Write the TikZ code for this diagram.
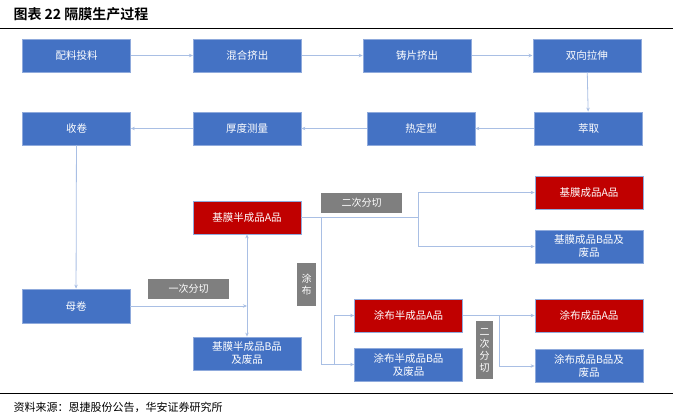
\documentclass[tikz,border=0pt]{standalone}
\usepackage{fontspec}
\setmainfont{Noto Sans CJK SC}
\newfontfamily\cjkbold{Noto Sans CJK SC Bold}
\usetikzlibrary{arrows.meta,positioning,calc}
\definecolor{procblue}{HTML}{4472C4}
\definecolor{gradered}{HTML}{C00000}
\definecolor{cutgrey}{HTML}{7F7F7F}
\definecolor{edgeblue}{HTML}{8FAADC}
\definecolor{linkblue}{HTML}{A9BFE4}

\begin{document}
\begin{tikzpicture}[
  x=1pt, y=-1pt,
  block/.style={draw=edgeblue, line width=0.8pt, rectangle,
                minimum width=108pt, minimum height=33pt, inner sep=1pt,
                font=\fontsize{10.5}{13}\selectfont, text=white, align=center},
  blueblock/.style={block, fill=procblue},
  redblock/.style={block, fill=gradered},
  cut/.style={fill=cutgrey, text=white, inner sep=0pt, align=center,
              font=\fontsize{10}{12}\selectfont},
  arr/.style={-{Stealth[length=4pt,width=3.5pt]}, linkblue, line width=0.8pt},
  lnk/.style={linkblue, line width=0.8pt},
  node distance=62pt
]
  \useasboundingbox (0,0) rectangle (678,418);

  %% Title and rules
  \node[anchor=west, font=\cjkbold\fontsize{14}{16}\selectfont] (title) at (10,14)
    {图表 22 隔膜生产过程};
  \draw[line width=1pt] (0,28) -- (673,28);
  \draw[line width=1pt] (0,393) -- (673,393);
  \node[anchor=west, font=\fontsize{11}{13}\selectfont] (src) at (10,407)
    {资料来源：恩捷股份公告，华安证券研究所};

  %% Row 1
  \node[blueblock] (feed) at (76.5,55.5) {配料投料};
  \node[blueblock, right=62pt of feed] (mix) {混合挤出};
  \node[blueblock, right=61pt of mix] (cast) {铸片挤出};
  \node[blueblock, right=61pt of cast] (stretch) {双向拉伸};

  %% Row 2
  \node[blueblock] (extract) at (588.5,128.5) {萃取};
  \node[blueblock] (heat) at (421,128.5) {热定型};
  \node[blueblock] (thick) at (247,128.5) {厚度测量};
  \node[blueblock] (wind) at (76.5,128.5) {收卷};

  %% Mother roll and base film
  \node[blueblock, minimum height=34pt] (mother) at (76,306) {母卷};
  \node[redblock] (semiA) at (247,217.5) {基膜半成品A品};
  \node[blueblock] (semiB) at (247,353.5) {基膜半成品B品\\及废品};
  \node[redblock] (baseA) at (589,192.5) {基膜成品A品};
  \node[blueblock] (baseB) at (589,246.5) {基膜成品B品及\\废品};

  %% Coating
  \node[redblock] (coatsemiA) at (408.5,315.5) {涂布半成品A品};
  \node[blueblock] (coatsemiB) at (408.5,364.5) {涂布半成品B品\\及废品};
  \node[redblock] (coatA) at (589,315.5) {涂布成品A品};
  \node[blueblock] (coatB) at (589,366) {涂布成品B品及\\废品};

  %% Cut labels
  \node[cut, minimum width=81pt, minimum height=20pt] (cut1) at (188.5,289) {一次分切};
  \node[cut, minimum width=81pt, minimum height=20pt] (cut2) at (361.5,203) {二次分切};
  \node[cut, minimum width=19pt, minimum height=43pt] (coat) at (306.5,284.5) {涂\\布};
  \node[cut, minimum width=17pt, minimum height=58pt] (cut3) at (484.5,350) {二\\次\\分\\切};

  %% Junctions
  \coordinate (j1) at (247,306);
  \coordinate (j2) at (418,217.5);
  \coordinate (j3) at (321,217.5);
  \coordinate (j4) at (334,364.5);
  \coordinate (j5) at (499,315.5);

  %% Arrows
  \draw[arr] (feed) -- (mix);
  \draw[arr] (mix) -- (cast);
  \draw[arr] (cast) -- (stretch);
  \draw[arr] (stretch) -- (extract);
  \draw[arr] (extract) -- (heat);
  \draw[arr] (heat) -- (thick);
  \draw[arr] (thick) -- (wind);
  \draw[arr] (wind) -- (mother);
  \draw[arr] (mother.east |- j1) -- (j1);
  \draw[arr] (j1) -- (semiA.south);
  \draw[arr] (j1) -- (semiB.north);
  \draw[lnk] (semiA.east) -- (j2);
  \draw[arr] (j2) |- (baseA.west);
  \draw[arr] (j2) |- (baseB.west);
  \draw[arr] (j3) |- (coatsemiB.west);
  \draw[arr] (j4) |- (coatsemiA.west);
  \draw[arr] (coatsemiA.east) -- (coatA.west);
  \draw[arr] (j5) |- (coatB.west);
\end{tikzpicture}
\end{document}
